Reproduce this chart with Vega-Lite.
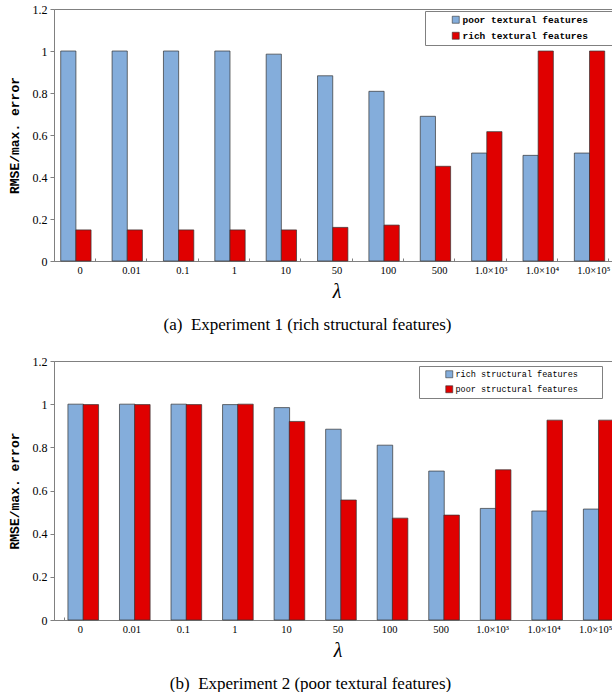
{
  "$schema": "https://vega.github.io/schema/vega-lite/v6.json",
  "padding": {"left": 7, "top": 2, "right": 0, "bottom": 0},
  "background": "white",
  "spacing": 21,
  "config": {
    "view": {"stroke": "#808080", "strokeWidth": 1},
    "axis": {"domainColor": "#808080", "tickColor": "#808080", "labelFont": "Liberation Serif", "labelColor": "#000000", "grid": false, "titleColor": "#000000"},
    "legend": {"orient": "none", "fillColor": "white", "strokeColor": "#808080", "padding": 4, "symbolType": "square", "symbolSize": 49, "symbolStrokeColor": "#333333", "symbolStrokeWidth": 0.6, "labelFont": "Liberation Mono", "labelColor": "#000000", "labelOffset": 2, "symbolOffset": 22, "rowPadding": 5, "titleOrient": "right", "titlePadding": 20}
  },
  "vconcat": [
    {
      "width": 565,
      "height": 252,
      "title": {"text": "(a)\u00a0\u00a0Experiment 1 (rich structural features)", "orient": "bottom", "anchor": "middle", "dx": -29, "offset": 15, "font": "Liberation Serif", "fontSize": 17, "fontWeight": "normal", "color": "#000000"},
      "data": {"values": [
        {"lambda": "0", "series": "poor textural features", "value": 1.0},
        {"lambda": "0.01", "series": "poor textural features", "value": 1.0},
        {"lambda": "0.1", "series": "poor textural features", "value": 1.0},
        {"lambda": "1", "series": "poor textural features", "value": 1.0},
        {"lambda": "10", "series": "poor textural features", "value": 0.985},
        {"lambda": "50", "series": "poor textural features", "value": 0.882},
        {"lambda": "100", "series": "poor textural features", "value": 0.808},
        {"lambda": "500", "series": "poor textural features", "value": 0.689},
        {"lambda": "1.0×10³", "series": "poor textural features", "value": 0.514},
        {"lambda": "1.0×10⁴", "series": "poor textural features", "value": 0.503},
        {"lambda": "1.0×10⁵", "series": "poor textural features", "value": 0.514},
        {"lambda": "0", "series": "rich textural features", "value": 0.148},
        {"lambda": "0.01", "series": "rich textural features", "value": 0.148},
        {"lambda": "0.1", "series": "rich textural features", "value": 0.148},
        {"lambda": "1", "series": "rich textural features", "value": 0.148},
        {"lambda": "10", "series": "rich textural features", "value": 0.148},
        {"lambda": "50", "series": "rich textural features", "value": 0.16},
        {"lambda": "100", "series": "rich textural features", "value": 0.171},
        {"lambda": "500", "series": "rich textural features", "value": 0.451},
        {"lambda": "1.0×10³", "series": "rich textural features", "value": 0.616},
        {"lambda": "1.0×10⁴", "series": "rich textural features", "value": 1.0},
        {"lambda": "1.0×10⁵", "series": "rich textural features", "value": 1.0}
      ]},
      "mark": {"type": "bar", "stroke": "#333333", "strokeWidth": 0.7, "width": 15.2},
      "encoding": {
        "x": {"field": "lambda", "type": "nominal", "sort": ["0", "0.01", "0.1", "1", "10", "50", "100", "500", "1.0×10³", "1.0×10⁴", "1.0×10⁵"],
          "scale": {"paddingInner": 0.41, "paddingOuter": 0.205},
          "axis": {"title": "λ", "labelAngle": 0, "labelFontSize": 10.5, "tickBand": "extent", "tickSize": -3, "labelPadding": 7,
            "titleFont": "Liberation Serif", "titleFontStyle": "italic", "titleFontSize": 20, "titleFontWeight": "normal", "titlePadding": 6,
            "encode": {"ticks": {"update": {"opacity": {"signal": "indexof(['0.01','1','50','500','1.0×10⁴'], datum.value) >= 0 ? 1 : 0"}}}}}},
        "xOffset": {"field": "series", "type": "nominal", "sort": ["poor textural features", "rich textural features"], "scale": {"paddingInner": 0, "paddingOuter": 0}},
        "y": {"field": "value", "type": "quantitative", "scale": {"domain": [0, 1.2]},
          "axis": {"values": [0, 0.2, 0.4, 0.6, 0.8, 1, 1.2], "format": "~g", "title": "RMSE/max. error", "labelFontSize": 12, "tickSize": 4, "labelPadding": 3,
            "titleFont": "Liberation Mono", "titleFontSize": 13, "titleFontWeight": "bold", "titlePadding": 11}},
        "fill": {"field": "series", "type": "nominal", "scale": {"domain": ["poor textural features", "rich textural features"], "range": ["#84ADDB", "#E00000"]},
          "legend": {"title": "\u00a0", "legendX": 371, "legendY": 2, "labelFontSize": 9.5, "labelFontWeight": "bold"}}
      }
    },
    {
      "width": 567,
      "height": 259,
      "title": {"text": "(b)\u00a0\u00a0Experiment 2 (poor textural features)", "orient": "bottom", "anchor": "middle", "dx": -27, "offset": 15, "font": "Liberation Serif", "fontSize": 17, "fontWeight": "normal", "color": "#000000"},
      "data": {"values": [
        {"lambda": "0", "series": "rich structural features", "value": 1.0},
        {"lambda": "0.01", "series": "rich structural features", "value": 1.0},
        {"lambda": "0.1", "series": "rich structural features", "value": 1.0},
        {"lambda": "1", "series": "rich structural features", "value": 0.998},
        {"lambda": "10", "series": "rich structural features", "value": 0.984},
        {"lambda": "50", "series": "rich structural features", "value": 0.884},
        {"lambda": "100", "series": "rich structural features", "value": 0.81},
        {"lambda": "500", "series": "rich structural features", "value": 0.69},
        {"lambda": "1.0×10³", "series": "rich structural features", "value": 0.517},
        {"lambda": "1.0×10⁴", "series": "rich structural features", "value": 0.505},
        {"lambda": "1.0×10⁵", "series": "rich structural features", "value": 0.514},
        {"lambda": "0", "series": "poor structural features", "value": 0.998},
        {"lambda": "0.01", "series": "poor structural features", "value": 0.998},
        {"lambda": "0.1", "series": "poor structural features", "value": 0.998},
        {"lambda": "1", "series": "poor structural features", "value": 1.0},
        {"lambda": "10", "series": "poor structural features", "value": 0.92},
        {"lambda": "50", "series": "poor structural features", "value": 0.556},
        {"lambda": "100", "series": "poor structural features", "value": 0.472},
        {"lambda": "500", "series": "poor structural features", "value": 0.486},
        {"lambda": "1.0×10³", "series": "poor structural features", "value": 0.696},
        {"lambda": "1.0×10⁴", "series": "poor structural features", "value": 0.926},
        {"lambda": "1.0×10⁵", "series": "poor structural features", "value": 0.926}
      ]},
      "mark": {"type": "bar", "stroke": "#333333", "strokeWidth": 0.7, "width": 15.5},
      "encoding": {
        "x": {"field": "lambda", "type": "nominal", "sort": ["0", "0.01", "0.1", "1", "10", "50", "100", "500", "1.0×10³", "1.0×10⁴", "1.0×10⁵"],
          "scale": {"paddingInner": 0.4, "paddingOuter": 0.2},
          "axis": {"title": "λ", "labelAngle": 0, "labelFontSize": 10.5, "tickBand": "extent", "tickSize": -3, "labelPadding": 7,
            "titleFont": "Liberation Serif", "titleFontStyle": "italic", "titleFontSize": 20, "titleFontWeight": "normal", "titlePadding": 6}},
        "xOffset": {"field": "series", "type": "nominal", "sort": ["rich structural features", "poor structural features"], "scale": {"paddingInner": 0, "paddingOuter": 0}},
        "y": {"field": "value", "type": "quantitative", "scale": {"domain": [0, 1.2]},
          "axis": {"values": [0, 0.2, 0.4, 0.6, 0.8, 1, 1.2], "format": "~g", "title": "RMSE/max. error", "labelFontSize": 12, "tickSize": 4, "labelPadding": 3,
            "titleFont": "Liberation Mono", "titleFontSize": 13, "titleFontWeight": "bold", "titlePadding": 11}},
        "fill": {"field": "series", "type": "nominal", "scale": {"domain": ["rich structural features", "poor structural features"], "range": ["#84ADDB", "#E00000"]},
          "legend": {"title": "\u00a0", "legendX": 365, "legendY": 5, "labelFontSize": 8.5}}
      }
    }
  ],
  "resolve": {"scale": {"fill": "independent"}, "legend": {"fill": "independent"}}
}
